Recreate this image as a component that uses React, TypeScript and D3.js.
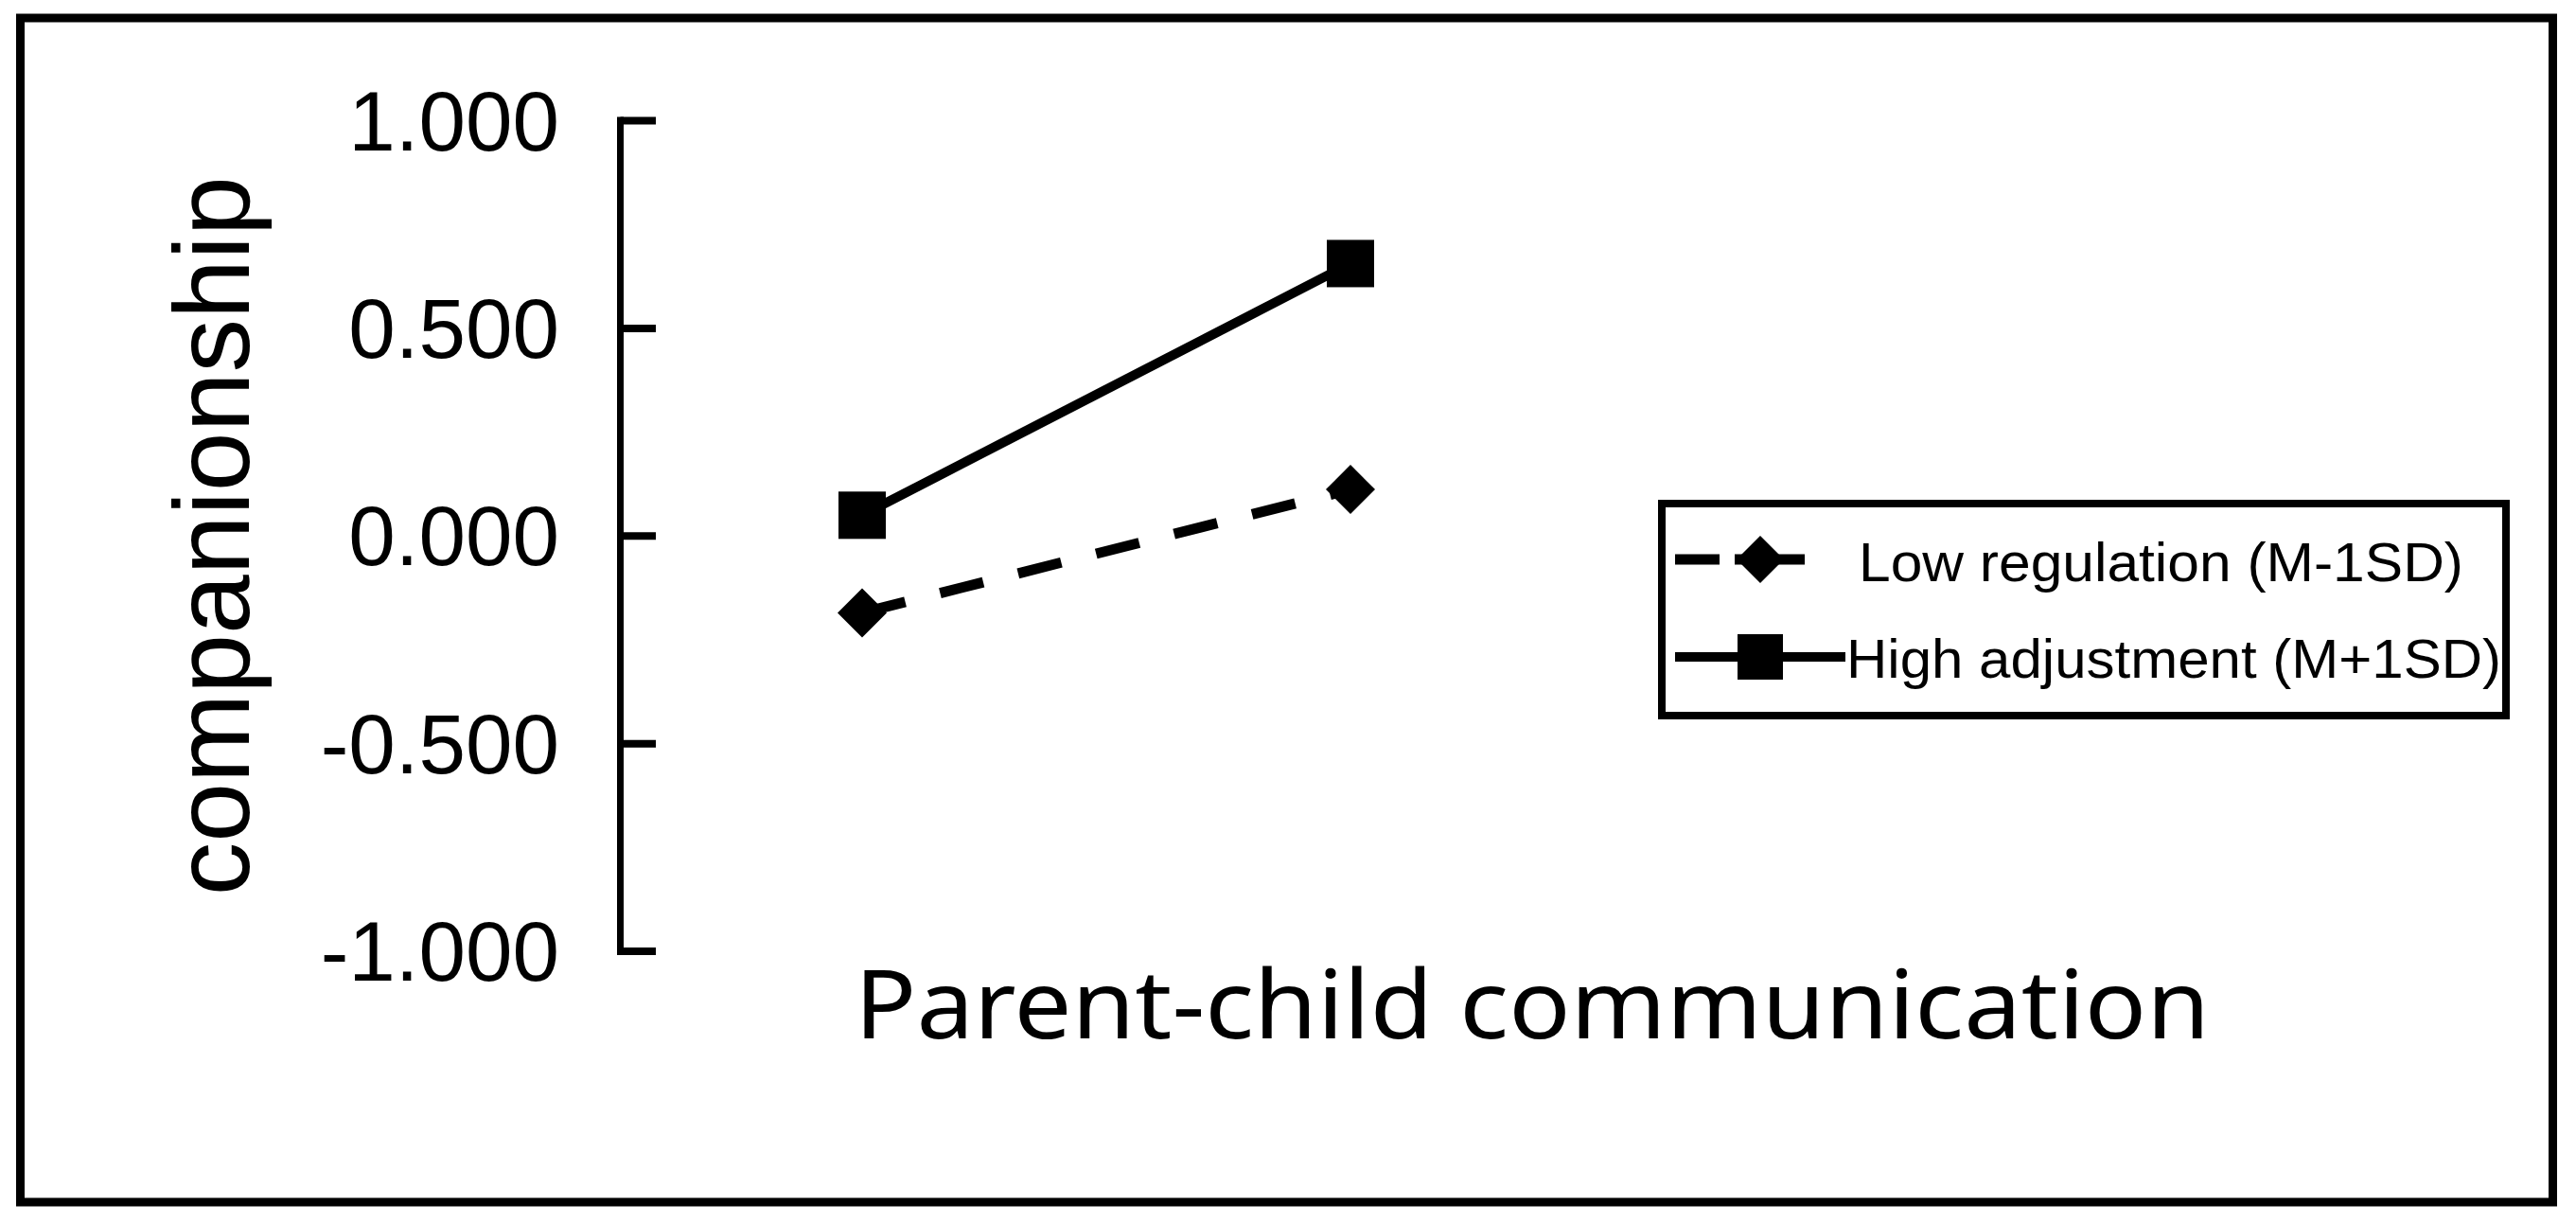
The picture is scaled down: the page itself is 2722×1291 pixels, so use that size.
import React from "react";
import * as d3 from "d3";

const categories = ["Low", "High"];
const lowRegulation = [-0.185, 0.112];
const highAdjustment = [0.05, 0.656];
const yTicks = [-1, -0.5, 0, 0.5, 1];
const yTickLabels = ["-1.000", "-0.500", "0.000", "0.500", "1.000"];
const seriesNames = ["Low regulation (M-1SD)", "High adjustment (M+1SD)"];
const yTitle = "companionship";
const xTitle = "Parent-child communication";

const W = 2722;
const H = 1291;

export default function App() {
  const x = d3.scalePoint<string>().domain(categories).range([911, 1427]);
  const y = d3.scaleLinear().domain([-1, 1]).range([1005, 127.5]);
  const axisX = 655.5;

  const lowPts = categories.map((c, i) => [x(c) as number, y(lowRegulation[i])] as [number, number]);
  const highPts = categories.map((c, i) => [x(c) as number, y(highAdjustment[i])] as [number, number]);
  const line = d3.line<[number, number]>();

  const diamond = (r: number) => `M0,${-r}L${r},0L0,${r}L${-r},0Z`;

  return (
    <svg
      width={W}
      height={H}
      style={{ position: "absolute", left: 0, top: 0, background: "#fff" }}
    >
      <rect x={0} y={0} width={W} height={H} fill="#fff" />
      {/* outer frame */}
      <rect x={21.5} y={19} width={2676} height={1251} fill="none" stroke="#000" strokeWidth={9} />

      {/* y axis */}
      <line x1={axisX} x2={axisX} y1={y(1) - 4} y2={y(-1) + 4} stroke="#000" strokeWidth={7} />
      {yTicks.map((t, i) => (
        <g key={t}>
          <line x1={axisX} x2={693} y1={y(t)} y2={y(t)} stroke="#000" strokeWidth={8} />
          <text
            x={591}
            y={y(t) + 31}
            textAnchor="end"
            fontFamily="'Liberation Sans', Arial, sans-serif"
            fontSize={89}
            fill="#000"
          >
            {yTickLabels[i]}
          </text>
        </g>
      ))}

      {/* y title */}
      <text
        transform={`translate(263, ${y(0)}) rotate(-90)`}
        textAnchor="middle"
        fontFamily="'Liberation Sans', Arial, sans-serif"
        fontSize={113}
        fill="#000"
      >
        {yTitle}
      </text>

      {/* x title */}
      <text
        x={903}
        y={1097}
        fontFamily="'Noto Sans', 'Open Sans', sans-serif"
        fontSize={100}
        textLength={1432}
        lengthAdjust="spacingAndGlyphs"
        fill="#000"
      >
        {xTitle}
      </text>

      {/* series lines */}
      <path d={line(lowPts) || ""} fill="none" stroke="#000" strokeWidth={11} strokeDasharray="47 38" />
      <path d={line(highPts) || ""} fill="none" stroke="#000" strokeWidth={10} />
      {lowPts.map((p, i) => (
        <path key={"d" + i} d={diamond(26)} transform={`translate(${p[0]},${p[1]})`} fill="#000" />
      ))}
      {highPts.map((p, i) => (
        <rect key={"s" + i} x={p[0] - 25} y={p[1] - 25} width={50} height={50} fill="#000" />
      ))}

      {/* legend */}
      <g>
        <line x1={1770} x2={1907} y1={591} y2={591} stroke="#000" strokeWidth={11} strokeDasharray="47 16 200" />
        <path d={diamond(25)} transform="translate(1860,591)" fill="#000" />
        <text
          x={1964}
          y={614}
          fontFamily="'Liberation Sans Narrow', 'Liberation Sans', sans-serif"
          fontSize={58}
          textLength={639}
          lengthAdjust="spacingAndGlyphs"
          fill="#000"
        >
          {seriesNames[0]}
        </text>
        <line x1={1770} x2={1950} y1={694} y2={694} stroke="#000" strokeWidth={10} />
        <rect x={1836} y={670} width={48} height={48} fill="#000" />
        <text
          x={1951}
          y={716}
          fontFamily="'Liberation Sans Narrow', 'Liberation Sans', sans-serif"
          fontSize={58}
          textLength={692}
          lengthAdjust="spacingAndGlyphs"
          fill="#000"
        >
          {seriesNames[1]}
        </text>
        <rect x={1756} y={532} width={892} height={224} fill="none" stroke="#000" strokeWidth={8} />
      </g>
    </svg>
  );
}
